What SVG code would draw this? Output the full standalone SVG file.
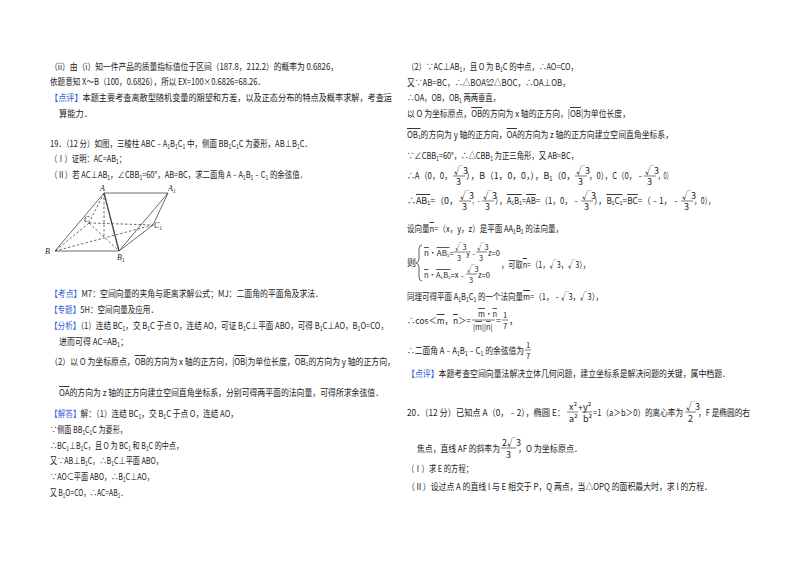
<svg xmlns="http://www.w3.org/2000/svg" width="800" height="565" viewBox="0 0 800 565">
<style>
text{font-family:"Noto Sans CJK SC","Liberation Sans",sans-serif;font-size:9px;fill:#222}
.b{fill:#2e5bd8}
.s{font-size:6px}
.f{font-size:7.5px}
.fl{stroke:#222;stroke-width:0.6}
.fig line{stroke:#444;stroke-width:0.8}
.fig .d{stroke-dasharray:2.5,2}
.fig text{font-family:"Liberation Serif",serif;font-style:italic;font-size:8px}
</style>
<rect width="800" height="565" fill="#fff"/>
<g id="left">
<text x="50" y="70" textLength="288" lengthAdjust="spacingAndGlyphs">（ii）由（i）知一件产品的质量指标值位于区间（187.8，212.2）的概率为 0.6826，</text>
<text x="50" y="85" textLength="215" lengthAdjust="spacingAndGlyphs">依题意知 X～B（100，0.6826），所以 EX=100×0.6826=68.26．</text>
<text x="50" y="101" textLength="342" lengthAdjust="spacingAndGlyphs"><tspan class="b">【点评】</tspan>本题主要考查离散型随机变量的期望和方差，以及正态分布的特点及概率求解，考查运</text>
<text x="59" y="117" textLength="33" lengthAdjust="spacingAndGlyphs">算能力．</text>
<text x="50" y="147" textLength="262" lengthAdjust="spacingAndGlyphs">19．（12 分）如图，三棱柱 ABC﹣A<tspan class="s" dy="2">1</tspan><tspan dy="-2">B</tspan><tspan class="s" dy="2">1</tspan><tspan dy="-2">C</tspan><tspan class="s" dy="2">1</tspan><tspan dy="-2"> 中，侧面 BB</tspan><tspan class="s" dy="2">1</tspan><tspan dy="-2">C</tspan><tspan class="s" dy="2">1</tspan><tspan dy="-2">C 为菱形，AB⊥B</tspan><tspan class="s" dy="2">1</tspan><tspan dy="-2">C．</tspan></text>
<text x="50" y="162" textLength="76" lengthAdjust="spacingAndGlyphs">（Ⅰ）证明：AC=AB<tspan class="s" dy="2">1</tspan><tspan dy="-2">；</tspan></text>
<text x="50" y="178" textLength="257" lengthAdjust="spacingAndGlyphs">（Ⅱ）若 AC⊥AB<tspan class="s" dy="2">1</tspan><tspan dy="-2">，∠CBB</tspan><tspan class="s" dy="2">1</tspan><tspan dy="-2">=60°，AB=BC，求二面角 A﹣A</tspan><tspan class="s" dy="2">1</tspan><tspan dy="-2">B</tspan><tspan class="s" dy="2">1</tspan><tspan dy="-2">﹣C</tspan><tspan class="s" dy="2">1</tspan><tspan dy="-2"> 的余弦值．</tspan></text>
<text x="50" y="297" textLength="273" lengthAdjust="spacingAndGlyphs"><tspan class="b">【考点】</tspan>M7：空间向量的夹角与距离求解公式；MJ：二面角的平面角及求法．</text>
<text x="50" y="313" textLength="108" lengthAdjust="spacingAndGlyphs"><tspan class="b">【专题】</tspan>5H：空间向量及应用．</text>
<text x="50" y="329" textLength="338" lengthAdjust="spacingAndGlyphs"><tspan class="b">【分析】</tspan>（1）连结 BC<tspan class="s" dy="2">1</tspan><tspan dy="-2">，交 B</tspan><tspan class="s" dy="2">1</tspan><tspan dy="-2">C 于点 O，连结 AO，可证 B</tspan><tspan class="s" dy="2">1</tspan><tspan dy="-2">C⊥平面 ABO，可得 B</tspan><tspan class="s" dy="2">1</tspan><tspan dy="-2">C⊥AO，B</tspan><tspan class="s" dy="2">1</tspan><tspan dy="-2">O=CO，</tspan></text>
<text x="59" y="345" textLength="69" lengthAdjust="spacingAndGlyphs">进而可得 AC=AB<tspan class="s" dy="2">1</tspan><tspan dy="-2">；</tspan></text>
<text x="50" y="365" textLength="345" lengthAdjust="spacingAndGlyphs">（2）以 O 为坐标原点，<tspan text-decoration="overline">OB</tspan>的方向为 x 轴的正方向，|<tspan text-decoration="overline">OB</tspan>|为单位长度，<tspan text-decoration="overline">OB₁</tspan>的方向为 y 轴的正方向，</text>
<text x="59" y="396" textLength="324" lengthAdjust="spacingAndGlyphs"><tspan text-decoration="overline">OA</tspan>的方向为 z 轴的正方向建立空间直角坐标系，分别可得两平面的法向量，可得所求余弦值．</text>
<text x="50" y="417" textLength="188" lengthAdjust="spacingAndGlyphs"><tspan class="b">【解答】</tspan>解：（1）连结 BC<tspan class="s" dy="2">1</tspan><tspan dy="-2">，交 B</tspan><tspan class="s" dy="2">1</tspan><tspan dy="-2">C 于点 O，连结 AO，</tspan></text>
<text x="50" y="433" textLength="77" lengthAdjust="spacingAndGlyphs">∵侧面 BB<tspan class="s" dy="2">1</tspan><tspan dy="-2">C</tspan><tspan class="s" dy="2">1</tspan><tspan dy="-2">C 为菱形，</tspan></text>
<text x="50" y="449" textLength="133" lengthAdjust="spacingAndGlyphs">∴BC<tspan class="s" dy="2">1</tspan><tspan dy="-2">⊥B</tspan><tspan class="s" dy="2">1</tspan><tspan dy="-2">C，且 O 为 BC</tspan><tspan class="s" dy="2">1</tspan><tspan dy="-2"> 和 B</tspan><tspan class="s" dy="2">1</tspan><tspan dy="-2">C 的中点，</tspan></text>
<text x="50" y="464" textLength="113" lengthAdjust="spacingAndGlyphs">又∵AB⊥B<tspan class="s" dy="2">1</tspan><tspan dy="-2">C，∴B</tspan><tspan class="s" dy="2">1</tspan><tspan dy="-2">C⊥平面 ABO，</tspan></text>
<text x="50" y="480" textLength="104" lengthAdjust="spacingAndGlyphs">∵AO⊂平面 ABO，∴B<tspan class="s" dy="2">1</tspan><tspan dy="-2">C⊥AO，</tspan></text>
<text x="50" y="496" textLength="77" lengthAdjust="spacingAndGlyphs">又 B<tspan class="s" dy="2">1</tspan><tspan dy="-2">O=CO，∴AC=AB</tspan><tspan class="s" dy="2">1</tspan><tspan dy="-2">．</tspan></text>
</g>
<g id="figure" class="fig">
<line x1="104" y1="193" x2="168" y2="193"/>
<line x1="104" y1="193" x2="55" y2="251"/>
<line x1="104" y1="193" x2="119" y2="251" style="stroke-width:1.3"/>
<line x1="55" y1="251" x2="119" y2="251"/>
<line x1="168" y1="193" x2="119" y2="251"/>
<line x1="168" y1="193" x2="153" y2="225"/>
<line x1="153" y1="225" x2="119" y2="251"/>
<line class="d" x1="104" y1="193" x2="89" y2="223"/>
<line class="d" x1="89" y1="223" x2="55" y2="251"/>
<line class="d" x1="89" y1="223" x2="153" y2="225"/>
<line class="d" x1="55" y1="251" x2="153" y2="225"/>
<line class="d" x1="89" y1="223" x2="119" y2="251"/>
<line class="d" x1="104" y1="193" x2="104" y2="238"/>
<text x="100" y="191">A</text>
<text x="168" y="191">A<tspan dy="2" style="font-size:5.5px">1</tspan></text>
<text x="84" y="222">C</text>
<text x="154" y="228">C<tspan dy="2" style="font-size:5.5px">1</tspan></text>
<text x="45" y="254">B</text>
<text x="117" y="260">B<tspan dy="2" style="font-size:5.5px">1</tspan></text>
</g>
<g id="right">
<text x="407" y="70" textLength="171" lengthAdjust="spacingAndGlyphs">（2）∵AC⊥AB<tspan class="s" dy="2">1</tspan><tspan dy="-2">，且 O 为 B</tspan><tspan class="s" dy="2">1</tspan><tspan dy="-2">C 的中点，∴AO=CO，</tspan></text>
<text x="407" y="86" textLength="163" lengthAdjust="spacingAndGlyphs">又∵AB=BC，∴△BOA≌△BOC，∴OA⊥OB，</text>
<text x="407" y="101" textLength="93" lengthAdjust="spacingAndGlyphs">∴OA，OB，OB<tspan class="s" dy="2">1</tspan><tspan dy="-2"> 两两垂直，</tspan></text>
<text x="407" y="117" textLength="223" lengthAdjust="spacingAndGlyphs">以 O 为坐标原点，<tspan text-decoration="overline">OB</tspan>的方向为 x 轴的正方向，|<tspan text-decoration="overline">OB</tspan>|为单位长度，</text>
<text x="407" y="138" textLength="266" lengthAdjust="spacingAndGlyphs"><tspan text-decoration="overline">OB₁</tspan>的方向为 y 轴的正方向，<tspan text-decoration="overline">OA</tspan>的方向为 z 轴的正方向建立空间直角坐标系，</text>
<text x="407" y="159" textLength="171" lengthAdjust="spacingAndGlyphs">∵∠CBB<tspan class="s" dy="2">1</tspan><tspan dy="-2">=60°，∴△CBB</tspan><tspan class="s" dy="2">1</tspan><tspan dy="-2"> 为正三角形，又 AB=BC，</tspan></text>
<text x="407" y="179" textLength="45" lengthAdjust="spacingAndGlyphs">∴A（0，0，</text>
<text x="466" y="179" textLength="109" lengthAdjust="spacingAndGlyphs">），B（1，0，0，），B<tspan class="s" dy="2">1</tspan><tspan dy="-2">（0，</tspan></text>
<text x="589" y="179" textLength="55" lengthAdjust="spacingAndGlyphs">，0），C（0，﹣</text>
<text x="658" y="179" textLength="14" lengthAdjust="spacingAndGlyphs">，0）</text>
<g class="f">
<text x="454" y="174">√3</text><line class="fl" x1="453" y1="176" x2="465" y2="176"/><text x="456" y="185">3</text>
<text x="576" y="174">√3</text><line class="fl" x1="575" y1="176" x2="587" y2="176"/><text x="578" y="185">3</text>
<text x="645" y="174">√3</text><line class="fl" x1="644" y1="176" x2="656" y2="176"/><text x="647" y="185">3</text>
</g>
<text x="407" y="204" textLength="51" lengthAdjust="spacingAndGlyphs">∴<tspan text-decoration="overline">AB₁</tspan>=（0，</text>
<text x="472" y="204" textLength="9" lengthAdjust="spacingAndGlyphs">，﹣</text>
<text x="495" y="204" textLength="85" lengthAdjust="spacingAndGlyphs">），<tspan text-decoration="overline">A₁B₁</tspan>=<tspan text-decoration="overline">AB</tspan>=（1，0，﹣</text>
<text x="594" y="204" textLength="86" lengthAdjust="spacingAndGlyphs">），<tspan text-decoration="overline">B₁C₁</tspan>=<tspan text-decoration="overline">BC</tspan>=（﹣1，﹣</text>
<text x="694" y="204" textLength="21" lengthAdjust="spacingAndGlyphs">，0），</text>
<g class="f">
<text x="460" y="199">√3</text><line class="fl" x1="459" y1="201" x2="471" y2="201"/><text x="462" y="210">3</text>
<text x="483" y="199">√3</text><line class="fl" x1="482" y1="201" x2="494" y2="201"/><text x="485" y="210">3</text>
<text x="582" y="199">√3</text><line class="fl" x1="581" y1="201" x2="593" y2="201"/><text x="584" y="210">3</text>
<text x="682" y="199">√3</text><line class="fl" x1="681" y1="201" x2="693" y2="201"/><text x="684" y="210">3</text>
</g>
<text x="407" y="232" textLength="156" lengthAdjust="spacingAndGlyphs">设向量<tspan text-decoration="overline">n</tspan>=（x，y，z）是平面 AA<tspan class="s" dy="2">1</tspan><tspan dy="-2">B</tspan><tspan class="s" dy="2">1</tspan><tspan dy="-2"> 的法向量，</tspan></text>
<text x="407" y="266">则</text>
<path d="M422 245 q-3 0 -3 4 v10 q0 3 -3 4 q3 1 3 4 v10 q0 4 3 4" fill="none" stroke="#222" stroke-width="0.7"/>
<text x="424" y="256" class="f" textLength="30" lengthAdjust="spacingAndGlyphs"><tspan text-decoration="overline">n</tspan>•<tspan text-decoration="overline">AB₁</tspan>=</text>
<text x="455" y="250" class="f">√3</text><line class="fl" x1="454" y1="252" x2="465" y2="252"/><text x="457" y="261" class="f">3</text>
<text x="466" y="256" class="f">y﹣</text>
<text x="477" y="250" class="f">√3</text><line class="fl" x1="476" y1="252" x2="487" y2="252"/><text x="479" y="261" class="f">3</text>
<text x="488" y="256" class="f">z=0</text>
<text x="424" y="278" class="f" textLength="42" lengthAdjust="spacingAndGlyphs"><tspan text-decoration="overline">n</tspan>•<tspan text-decoration="overline">A₁B₁</tspan>=x﹣</text>
<text x="467" y="272" class="f">√3</text><line class="fl" x1="466" y1="274" x2="477" y2="274"/><text x="469" y="283" class="f">3</text>
<text x="478" y="278" class="f">z=0</text>
<text x="501" y="268" textLength="89" lengthAdjust="spacingAndGlyphs">，可取<tspan text-decoration="overline">n</tspan>=（1，√3，√3），</text>
<text x="407" y="300" textLength="196" lengthAdjust="spacingAndGlyphs">同理可得平面 A<tspan class="s" dy="2">1</tspan><tspan dy="-2">B</tspan><tspan class="s" dy="2">1</tspan><tspan dy="-2">C</tspan><tspan class="s" dy="2">1</tspan><tspan dy="-2"> 的一个法向量</tspan><tspan text-decoration="overline">m</tspan>=（1，﹣√3，√3），</text>
<text x="407" y="324" textLength="64" lengthAdjust="spacingAndGlyphs">∴cos＜<tspan text-decoration="overline">m</tspan>，<tspan text-decoration="overline">n</tspan>＞=</text>
<text x="478" y="317" class="f"><tspan text-decoration="overline">m</tspan>•<tspan text-decoration="overline">n</tspan></text>
<line class="fl" x1="472" y1="320" x2="495" y2="320"/>
<text x="473" y="330" class="f">|<tspan text-decoration="overline">m</tspan>||<tspan text-decoration="overline">n</tspan>|</text>
<text x="496" y="324">=</text>
<text x="503" y="318" class="f">1</text><line class="fl" x1="502" y1="320" x2="508" y2="320"/><text x="503" y="329" class="f">7</text>
<text x="509" y="324">，</text>
<text x="407" y="354" textLength="117" lengthAdjust="spacingAndGlyphs">∴二面角 A﹣A<tspan class="s" dy="2">1</tspan><tspan dy="-2">B</tspan><tspan class="s" dy="2">1</tspan><tspan dy="-2">﹣C</tspan><tspan class="s" dy="2">1</tspan><tspan dy="-2"> 的余弦值为</tspan></text>
<text x="526" y="348" class="f">1</text><line class="fl" x1="525" y1="350" x2="531" y2="350"/><text x="526" y="359" class="f">7</text>
<text x="407" y="377" textLength="323" lengthAdjust="spacingAndGlyphs"><tspan class="b">【点评】</tspan>本题考查空间向量法解决立体几何问题，建立坐标系是解决问题的关键，属中档题．</text>
<text x="407" y="416" textLength="158" lengthAdjust="spacingAndGlyphs">20．（12 分）已知点 A（0，﹣2），椭圆 E：</text>
<g class="f">
<text x="569" y="410">x²</text><line class="fl" x1="567" y1="412" x2="578" y2="412"/><text x="569" y="422">a²</text>
<text x="578" y="411">+</text>
<text x="583" y="410">y²</text><line class="fl" x1="582" y1="412" x2="592" y2="412"/><text x="583" y="422">b²</text>
<text x="686" y="410">√3</text><line class="fl" x1="685" y1="412" x2="696" y2="412"/><text x="688" y="422">2</text>
</g>
<text x="593" y="416" textLength="90" lengthAdjust="spacingAndGlyphs">=1（a＞b＞0）的离心率为</text>
<text x="698" y="416" textLength="52" lengthAdjust="spacingAndGlyphs">，F 是椭圆的右</text>
<text x="417" y="452" textLength="83" lengthAdjust="spacingAndGlyphs">焦点，直线 AF 的斜率为</text>
<g class="f">
<text x="502" y="446">2√3</text><line class="fl" x1="501" y1="448" x2="516" y2="448"/><text x="506" y="458">3</text>
</g>
<text x="518" y="452" textLength="64" lengthAdjust="spacingAndGlyphs">，O 为坐标原点．</text>
<text x="407" y="472" textLength="66" lengthAdjust="spacingAndGlyphs">（Ⅰ）求 E 的方程；</text>
<text x="407" y="490" textLength="305" lengthAdjust="spacingAndGlyphs">（Ⅱ）设过点 A 的直线 l 与 E 相交于 P，Q 两点，当△OPQ 的面积最大时，求 l 的方程．</text>
</g>
</svg>
